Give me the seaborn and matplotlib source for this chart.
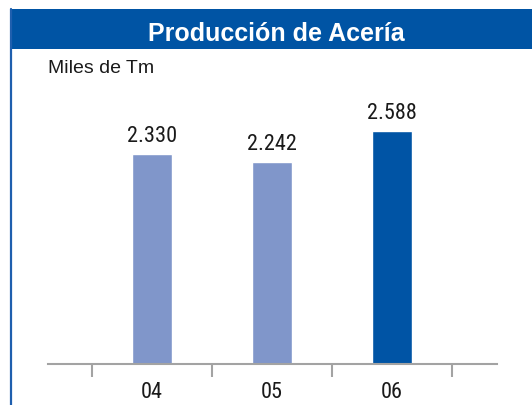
import matplotlib
matplotlib.use('Agg')
import matplotlib.pyplot as plt
import seaborn as sns
from matplotlib.patches import Rectangle
from matplotlib.lines import Line2D

# data
years = ['04', '05', '06']
production = [2330, 2242, 2588]
value_labels = ['2.330', '2.242', '2.588']
bar_colors = ['#8096CA', '#8096CA', '#0054A5']

title_blue = '#0054A4'
axis_gray = '#A3A3A3'

sns.set_style('white')
plt.rcParams['font.family'] = ['Roboto Condensed', 'DejaVu Sans']

W, H = 532, 406
fig = plt.figure(figsize=(W / 100, H / 100), dpi=100)

# plot area in pixel coordinates
left, right, bottom, top = 47.7, 497, 365, 90
ax = fig.add_axes([left / W, 1 - bottom / H, (right - left) / W, (bottom - top) / H])

sns.barplot(x=years, y=production, hue=years, palette=bar_colors,
            width=0.34, legend=False, saturation=1, ax=ax)

ax.set_xlim(-0.87, 2.875)
ax.set_ylim(0, 3056)

for cont, lab in zip(ax.containers, value_labels):
    ax.bar_label(cont, labels=[lab], padding=6, fontsize=16, color='#1a1a1a')

sns.despine(ax=ax, left=True, top=True, right=True)
ax.spines['bottom'].set_color(axis_gray)
ax.spines['bottom'].set_linewidth(1.5)
ax.set_yticks([])

# labels at category centres, tick marks between categories
ax.set_xticks([0, 1, 2])
ax.set_xticklabels(years, fontsize=16, color='#1a1a1a')
ax.tick_params(axis='x', which='major', length=0, pad=12)
ax.set_xticks([-0.5, 0.5, 1.5, 2.5], minor=True)
ax.tick_params(axis='x', which='minor', length=9, width=1.5, color=axis_gray, bottom=True)
ax.set_xlabel('')
ax.set_ylabel('')

# title band and left frame line
fig.patches.append(Rectangle((10 / W, 1 - 50 / H), (W - 10) / W, 40 / H,
                             transform=fig.transFigure, facecolor=title_blue,
                             edgecolor='none', zorder=0))
fig.lines.append(Line2D([10.5 / W, 10.5 / W], [0, 1 - 10 / H], transform=fig.transFigure,
                        color='#1F5FAE', linewidth=1.6))

fig.text(276 / W, 1 - 41 / H, 'Producción de Acería', ha='center', va='baseline',
         color='white', fontsize=18, fontweight='bold',
         family=['Liberation Sans', 'DejaVu Sans'])
fig.text(48 / W, 1 - 73 / H, 'Miles de Tm', ha='left', va='baseline',
         color='#1a1a1a', fontsize=14, family=['Liberation Sans', 'DejaVu Sans'])

fig.savefig('out.png', dpi=100)
